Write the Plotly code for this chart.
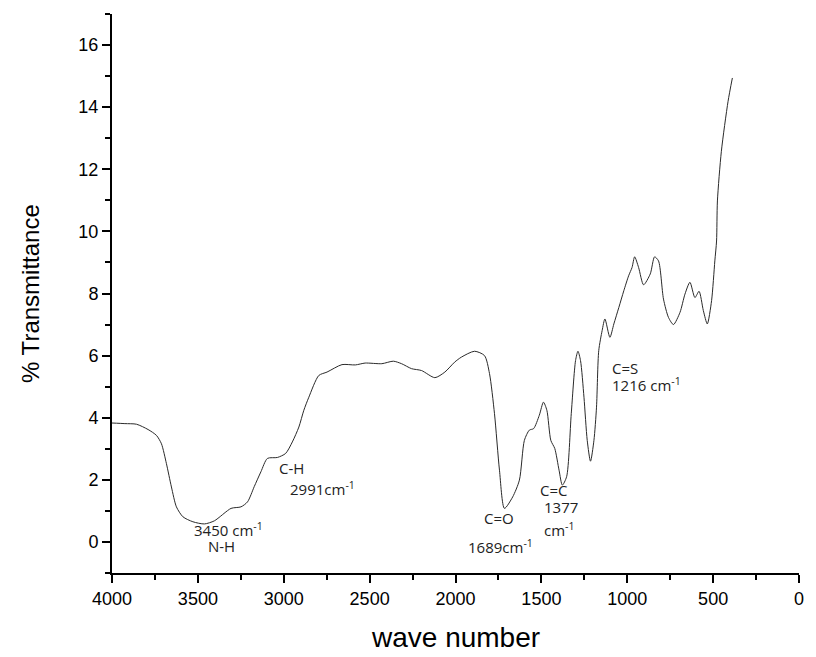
import plotly.graph_objects as go

# IR spectrum: wave number (cm^-1) and % transmittance
wavenumber = [
    4000, 3925, 3857, 3790, 3741, 3712, 3683, 3654, 3625, 3587,
    3529, 3462, 3404, 3307, 3249, 3211, 3172, 3133, 3095, 3037,
    2989, 2950, 2912, 2883, 2854, 2796, 2748, 2661, 2583, 2526,
    2429, 2362, 2314, 2256, 2198, 2120, 2062, 2005, 1966, 1889,
    1831, 1802, 1773, 1744, 1715, 1667, 1628, 1599, 1570, 1545,
    1512, 1488, 1468, 1445, 1422, 1397, 1378, 1353, 1326, 1301,
    1287, 1272, 1252, 1233, 1214, 1194, 1179, 1166, 1146, 1130,
    1101, 1078, 1049, 1020, 992, 972, 957, 934, 905, 866,
    841, 818, 789, 760, 731, 693, 664, 635, 606, 582,
    557, 534, 509, 490, 480, 475, 452, 413, 388,
]
transmittance = [
    3.83, 3.81, 3.79, 3.62, 3.43, 3.16, 2.52, 1.77, 1.13, 0.81,
    0.65, 0.58, 0.68, 1.08, 1.13, 1.29, 1.78, 2.26, 2.69, 2.72,
    2.85, 3.22, 3.70, 4.24, 4.66, 5.36, 5.47, 5.71, 5.70, 5.76,
    5.74, 5.82, 5.74, 5.58, 5.52, 5.29, 5.47, 5.79, 5.95, 6.14,
    6.00, 5.42, 4.13, 2.31, 1.08, 1.45, 1.99, 3.27, 3.60, 3.65,
    4.08, 4.50, 4.24, 3.27, 3.01, 2.31, 1.83, 2.10, 4.13, 5.84,
    6.14, 5.84, 4.66, 3.27, 2.60, 3.27, 4.34, 6.16, 6.81, 7.18,
    6.59, 7.02, 7.55, 8.09, 8.57, 8.84, 9.18, 8.84, 8.28, 8.63,
    9.18, 9.05, 7.82, 7.23, 7.00, 7.39, 7.98, 8.36, 7.87, 8.07,
    7.45, 7.02, 7.77, 9.05, 9.69, 10.98, 12.58, 14.19, 14.94,
]

# Band labels: (text, x, y)
band_labels = [
    ("3450 cm<sup>-1</sup>", 3533, 0.41),
    ("N-H", 3452, -0.13),
    ("C-H", 3037, 2.37),
    ("2991cm<sup>-1</sup>", 2974, 1.72),
    ("C=O", 1845, 0.76),
    ("1689cm<sup>-1</sup>", 1937, -0.15),
    ("C=C", 1518, 1.66),
    ("1377", 1497, 1.12),
    ("cm<sup>-1</sup>", 1497, 0.41),
    ("C=S", 1098, 5.60),
    ("1216 cm<sup>-1</sup>", 1101, 5.07),
]

x_ticks = [4000, 3500, 3000, 2500, 2000, 1500, 1000, 500, 0]
y_ticks = [0, 2, 4, 6, 8, 10, 12, 14, 16]

fig = go.Figure()
fig.add_trace(go.Scatter(
    x=wavenumber, y=transmittance, mode="lines",
    line=dict(color="#2a2a2a", width=1, shape="spline", smoothing=0.7),
    showlegend=False, hoverinfo="x+y",
))

label_font = dict(family="Open Sans, Noto Sans, sans-serif", size=15, color="#222")
for text, x, y in band_labels:
    fig.add_annotation(x=x, y=y, text=text, showarrow=False,
                       xanchor="left", yanchor="middle", font=label_font)

axis_font = dict(family="Liberation Sans, Arial, sans-serif", size=18, color="black")

fig.add_annotation(text="wave number", xref="paper", yref="paper",
                   x=0.5, y=-0.1145, xanchor="center", yanchor="middle",
                   showarrow=False,
                   font=dict(family="Liberation Sans, Arial, sans-serif", size=28, color="black"))
fig.add_annotation(text="% Transmittance", xref="paper", yref="paper",
                   x=-0.1187, y=0.5, xanchor="center", yanchor="middle",
                   textangle=-90, showarrow=False,
                   font=dict(family="Liberation Sans, Arial, sans-serif", size=24, color="black"))

fig.update_xaxes(
    range=[4000, 0], tickvals=x_ticks, ticktext=[str(v) for v in x_ticks],
    showline=True, linecolor="black", linewidth=2, mirror=False,
    ticks="outside", ticklen=8, tickwidth=2, tickcolor="black",
    minor=dict(dtick=250, ticks="outside", ticklen=5, tickwidth=2, tickcolor="black"),
    showgrid=False, zeroline=False, tickfont=axis_font,
)
fig.update_yaxes(
    range=[-1, 17], tickvals=y_ticks, ticktext=[str(v) for v in y_ticks],
    showline=True, linecolor="black", linewidth=2, mirror=False,
    ticks="outside", ticklen=8, tickwidth=2, tickcolor="black",
    minor=dict(dtick=1, tick0=1, ticks="outside", ticklen=5, tickwidth=2, tickcolor="black"),
    showgrid=False, zeroline=False, tickfont=axis_font,
)

fig.update_layout(
    width=816, height=657,
    margin=dict(l=112, r=13, t=14, b=84),
    plot_bgcolor="white", paper_bgcolor="white",
)

fig.write_html("out.html")
